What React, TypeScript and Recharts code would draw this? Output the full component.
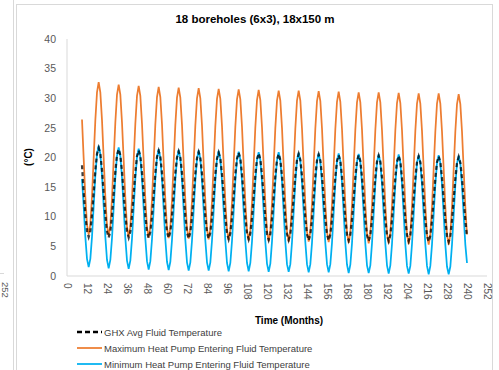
import React from "react";
import { Line, LineChart, XAxis, YAxis } from "recharts";

// first sample is month 9, then one value per month up to month 240
const START_MONTH = 9;

const ghxAvg = [
  18.7, 14.1, 10.4,
  7.6, 6.6, 7.6, 10.4, 14.1, 17.9, 20.6, 21.6, 20.6, 17.9, 14.1, 10.4,
  7.5, 6.5, 7.5, 10.2, 14.0, 17.7, 20.4, 21.4, 20.4, 17.7, 14.0, 10.2,
  7.5, 6.5, 7.5, 10.2, 13.9, 17.5, 20.2, 21.2, 20.2, 17.5, 13.9, 10.2,
  7.4, 6.4, 7.4, 10.1, 13.8, 17.4, 20.1, 21.1, 20.1, 17.4, 13.8, 10.1,
  7.4, 6.4, 7.4, 10.1, 13.7, 17.4, 20.0, 21.0, 20.0, 17.4, 13.7, 10.1,
  7.3, 6.3, 7.3, 10.0, 13.6, 17.3, 19.9, 20.9, 19.9, 17.3, 13.6, 10.0,
  7.3, 6.3, 7.3, 9.9, 13.6, 17.2, 19.8, 20.8, 19.8, 17.2, 13.6, 9.9,
  7.2, 6.2, 7.2, 9.9, 13.5, 17.2, 19.8, 20.8, 19.8, 17.2, 13.5, 9.9,
  7.2, 6.2, 7.2, 9.8, 13.5, 17.1, 19.7, 20.7, 19.7, 17.1, 13.5, 9.8,
  7.1, 6.1, 7.1, 9.7, 13.4, 17.0, 19.6, 20.6, 19.6, 17.0, 13.4, 9.7,
  7.1, 6.1, 7.1, 9.7, 13.3, 17.0, 19.6, 20.6, 19.6, 16.9, 13.3, 9.7,
  7.0, 6.0, 7.0, 9.6, 13.3, 16.9, 19.5, 20.5, 19.5, 16.9, 13.3, 9.6,
  7.0, 6.0, 7.0, 9.6, 13.2, 16.8, 19.4, 20.4, 19.4, 16.8, 13.2, 9.6,
  7.0, 6.0, 7.0, 9.5, 13.2, 16.8, 19.4, 20.4, 19.4, 16.7, 13.1, 9.5,
  6.9, 5.9, 6.9, 9.5, 13.1, 16.7, 19.3, 20.3, 19.3, 16.7, 13.1, 9.5,
  6.9, 5.9, 6.9, 9.5, 13.1, 16.7, 19.3, 20.3, 19.3, 16.6, 13.1, 9.5,
  6.9, 5.9, 6.9, 9.5, 13.1, 16.6, 19.2, 20.2, 19.2, 16.6, 13.0, 9.4,
  6.8, 5.8, 6.8, 9.4, 13.0, 16.6, 19.2, 20.2, 19.2, 16.6, 13.0, 9.4,
  6.8, 5.8, 6.8, 9.4, 13.0, 16.5, 19.1, 20.1, 19.1, 16.5, 13.0, 9.4,
  6.6,
];

const maxHpEft = [
  26.4, 19.9, 13.4,
  8.7, 7.0, 8.7, 13.4, 19.9, 26.3, 31.0, 32.7, 31.0, 26.3, 19.9, 13.4,
  8.5, 6.8, 8.5, 13.2, 19.6, 25.9, 30.6, 32.3, 30.6, 25.9, 19.6, 13.2,
  8.3, 6.6, 8.3, 13.0, 19.4, 25.7, 30.4, 32.1, 30.4, 25.7, 19.4, 13.0,
  8.2, 6.5, 8.2, 12.9, 19.2, 25.6, 30.2, 31.9, 30.2, 25.6, 19.2, 12.9,
  8.1, 6.4, 8.1, 12.8, 19.1, 25.5, 30.1, 31.8, 30.1, 25.5, 19.1, 12.8,
  8.0, 6.3, 8.0, 12.7, 19.0, 25.4, 30.0, 31.7, 30.0, 25.4, 19.0, 12.7,
  7.9, 6.2, 7.9, 12.6, 18.9, 25.3, 29.9, 31.6, 29.9, 25.3, 18.9, 12.6,
  7.8, 6.1, 7.8, 12.5, 18.8, 25.2, 29.8, 31.5, 29.8, 25.2, 18.8, 12.5,
  7.7, 6.0, 7.7, 12.4, 18.7, 25.1, 29.7, 31.4, 29.7, 25.1, 18.7, 12.4,
  7.6, 5.9, 7.6, 12.3, 18.6, 25.0, 29.6, 31.3, 29.6, 25.0, 18.6, 12.3,
  7.5, 5.8, 7.5, 12.2, 18.6, 24.9, 29.6, 31.3, 29.6, 24.9, 18.6, 12.2,
  7.5, 5.8, 7.5, 12.2, 18.5, 24.9, 29.5, 31.2, 29.5, 24.9, 18.5, 12.2,
  7.4, 5.7, 7.4, 12.1, 18.4, 24.8, 29.4, 31.1, 29.4, 24.8, 18.4, 12.1,
  7.3, 5.6, 7.3, 12.0, 18.3, 24.7, 29.3, 31.0, 29.3, 24.7, 18.3, 12.0,
  7.2, 5.5, 7.2, 11.9, 18.3, 24.6, 29.3, 31.0, 29.3, 24.6, 18.3, 11.9,
  7.2, 5.5, 7.2, 11.9, 18.2, 24.6, 29.2, 30.9, 29.2, 24.6, 18.2, 11.9,
  7.1, 5.4, 7.1, 11.8, 18.1, 24.5, 29.1, 30.8, 29.1, 24.5, 18.1, 11.8,
  7.0, 5.3, 7.0, 11.7, 18.1, 24.4, 29.1, 30.8, 29.1, 24.4, 18.1, 11.7,
  7.0, 5.3, 7.0, 11.7, 18.0, 24.4, 29.0, 30.7, 29.0, 24.4, 18.0, 11.7,
  7.0,
];

const minHpEft = [
  16.4, 11.8, 6.6,
  2.9, 1.5, 2.9, 6.6, 11.8, 16.9, 20.6, 22.0, 20.6, 16.9, 11.8, 6.6,
  2.7, 1.3, 2.7, 6.4, 11.5, 16.6, 20.3, 21.7, 20.3, 16.6, 11.5, 6.4,
  2.6, 1.2, 2.6, 6.3, 11.4, 16.4, 20.1, 21.5, 20.1, 16.4, 11.4, 6.3,
  2.5, 1.1, 2.5, 6.2, 11.3, 16.3, 20.0, 21.4, 20.0, 16.3, 11.3, 6.2,
  2.4, 1.0, 2.4, 6.1, 11.2, 16.2, 19.9, 21.3, 19.9, 16.2, 11.2, 6.1,
  2.3, 0.9, 2.3, 6.0, 11.1, 16.1, 19.8, 21.2, 19.8, 16.1, 11.1, 6.0,
  2.3, 0.9, 2.3, 6.0, 11.0, 16.1, 19.8, 21.1, 19.8, 16.1, 11.0, 6.0,
  2.2, 0.8, 2.2, 5.9, 10.9, 16.0, 19.7, 21.0, 19.7, 16.0, 10.9, 5.9,
  2.2, 0.8, 2.2, 5.8, 10.9, 15.9, 19.6, 20.9, 19.6, 15.9, 10.9, 5.8,
  2.1, 0.7, 2.1, 5.8, 10.8, 15.9, 19.5, 20.9, 19.5, 15.9, 10.8, 5.8,
  2.0, 0.7, 2.0, 5.7, 10.8, 15.8, 19.5, 20.8, 19.5, 15.8, 10.8, 5.7,
  2.0, 0.6, 2.0, 5.6, 10.7, 15.7, 19.4, 20.7, 19.4, 15.7, 10.7, 5.6,
  2.0, 0.6, 2.0, 5.6, 10.7, 15.7, 19.4, 20.7, 19.4, 15.7, 10.7, 5.6,
  1.9, 0.5, 1.9, 5.5, 10.6, 15.6, 19.3, 20.6, 19.3, 15.6, 10.6, 5.5,
  1.8, 0.5, 1.8, 5.5, 10.5, 15.5, 19.2, 20.5, 19.2, 15.5, 10.5, 5.5,
  1.8, 0.4, 1.8, 5.4, 10.5, 15.5, 19.2, 20.5, 19.2, 15.5, 10.5, 5.4,
  1.7, 0.4, 1.7, 5.4, 10.4, 15.4, 19.1, 20.4, 19.1, 15.4, 10.4, 5.4,
  1.7, 0.3, 1.7, 5.3, 10.4, 15.4, 19.1, 20.4, 19.1, 15.4, 10.4, 5.3,
  1.6, 0.3, 1.6, 5.3, 10.3, 15.3, 19.0, 20.3, 19.0, 15.3, 10.3, 5.3,
  2.2,
];

const xTicks = [0, 12, 24, 36, 48, 60, 72, 84, 96, 108, 120, 132, 144, 156, 168, 180, 192, 204, 216, 228, 240, 252];
const yTicks = [0, 5, 10, 15, 20, 25, 30, 35, 40];

const seriesNames = [
  "GHX Avg Fluid Temperature",
  "Maximum Heat Pump Entering Fluid Temperature",
  "Minimum Heat Pump Entering Fluid Temperature",
];

const data = ghxAvg.map((v, i) => ({
  month: START_MONTH + i,
  ghx: v,
  maxHp: maxHpEft[i],
  minHp: minHpEft[i],
}));

const FONT = '"Liberation Sans", Arial, sans-serif';
const ORANGE = "#ED7D31";
const BLUE = "#00B0F0";
const GRID = "#d9d9d9";
const TEXT = "#595959";

const XTick = (props: any) => {
  const { x, y, payload } = props;
  return (
    <text
      transform={`translate(${x},${y}) rotate(90)`}
      textAnchor="start"
      dominantBaseline="central"
      fontSize={10}
      fontFamily={FONT}
      fill={TEXT}
    >
      {payload.value}
    </text>
  );
};

export default function App() {
  const legendRows = [
    { name: seriesNames[0], color: "#000000", width: 2.5, dash: "5 3", y: 332 },
    { name: seriesNames[1], color: ORANGE, width: 1.75, dash: undefined, y: 348 },
    { name: seriesNames[2], color: BLUE, width: 1.75, dash: undefined, y: 364 },
  ];

  return (
    <div
      style={{
        position: "absolute",
        left: 0,
        top: 0,
        width: 499,
        height: 370,
        overflow: "hidden",
        background: "#fff",
        fontFamily: FONT,
      }}
    >
      {/* edge of the neighbouring chart */}
      <div style={{ position: "absolute", left: 13, top: 0, width: 1, height: 370, background: GRID }} />
      <div style={{ position: "absolute", left: 0, top: 273, width: 4, height: 1, background: GRID }} />
      {/* chart area border */}
      <div
        style={{
          position: "absolute",
          left: 16,
          top: 4,
          width: 475,
          height: 420,
          border: `1px solid ${GRID}`,
        }}
      />
      <div style={{ position: "absolute", left: 0, top: 0 }}>
        <LineChart
          width={499}
          height={370}
          data={data}
          margin={{ top: 39, right: 12, bottom: 34, left: 17 }}
        >
          <XAxis
            type="number"
            dataKey="month"
            domain={[0, 252]}
            ticks={xTicks}
            interval={0}
            height={60}
            tickSize={0}
            tickMargin={7}
            tick={<XTick />}
            axisLine={{ stroke: GRID, strokeWidth: 1 }}
            tickLine={false}
          />
          <YAxis
            type="number"
            domain={[0, 40]}
            ticks={yTicks}
            interval={0}
            width={50}
            tickSize={0}
            tickMargin={11}
            tick={{ fontSize: 10.5, fill: TEXT, fontFamily: FONT }}
            axisLine={{ stroke: GRID, strokeWidth: 1 }}
            tickLine={false}
          />
          <Line
            type="linear"
            dataKey="maxHp"
            name={seriesNames[1]}
            stroke={ORANGE}
            strokeWidth={1.75}
            dot={false}
            isAnimationActive={false}
          />
          <Line
            type="linear"
            dataKey="minHp"
            name={seriesNames[2]}
            stroke={BLUE}
            strokeWidth={1.75}
            dot={false}
            isAnimationActive={false}
          />
          <Line
            type="linear"
            dataKey="ghx"
            name={seriesNames[0]}
            stroke="#000000"
            strokeOpacity={0.75}
            strokeWidth={2.25}
            strokeDasharray="4 3"
            dot={false}
            isAnimationActive={false}
          />
        </LineChart>
      </div>
      <svg
        width={499}
        height={370}
        style={{ position: "absolute", left: 0, top: 0, pointerEvents: "none" }}
        fontFamily={FONT}
      >
        <text x={255} y={19} textAnchor="middle" dominantBaseline="central" fontSize={11.5} fontWeight="bold" fill="#000">
          18 boreholes (6x3), 18x150 m
        </text>
        <text
          transform="translate(28,157) rotate(-90)"
          textAnchor="middle"
          dominantBaseline="central"
          fontSize={10}
          fontWeight="bold"
          fill="#000"
        >
          (°C)
        </text>
        <text x={289} y={320} textAnchor="middle" dominantBaseline="central" fontSize={10} fontWeight="bold" fill="#000">
          Time (Months)
        </text>
        <text
          transform="translate(5,282) rotate(90)"
          textAnchor="start"
          dominantBaseline="central"
          fontSize={9.5}
          fill={TEXT}
        >
          252
        </text>
        {legendRows.map((r) => (
          <g key={r.name}>
            <line
              x1={77}
              x2={102}
              y1={r.y}
              y2={r.y}
              stroke={r.color}
              strokeWidth={r.width}
              strokeDasharray={r.dash}
            />
            <text x={104} y={r.y} dominantBaseline="central" fontSize={9.5} fill="#404040">
              {r.name}
            </text>
          </g>
        ))}
      </svg>
    </div>
  );
}
